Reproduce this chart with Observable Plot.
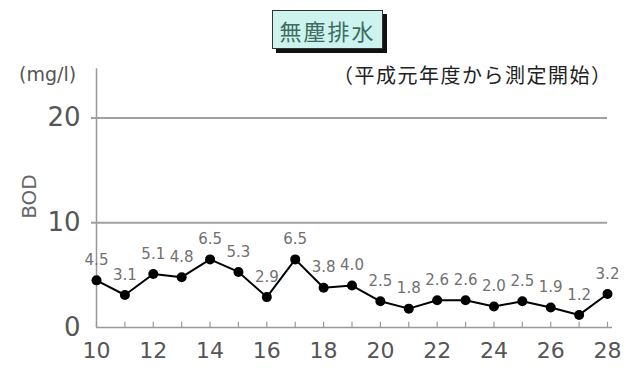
<!DOCTYPE html>
<html>
<head>
<meta charset="utf-8">
<script src="https://cdn.jsdelivr.net/npm/d3@7"></script>
<script src="https://cdn.jsdelivr.net/npm/@observablehq/plot@0.6"></script>
<style>
  body { margin: 0; background: #fff; }
  #wrap { position: relative; width: 637px; height: 368px; font-family: "DejaVu Sans", sans-serif; }
  #title { position: absolute; left: 272px; top: 10px; width: 109px; height: 37px; border: 1px solid #333;
    background: #cdf3ee; box-shadow: 4px 4px 0 #111; color: #3d6d62; font: 22px "Noto Sans CJK JP", sans-serif;
    display: flex; align-items: center; justify-content: center; letter-spacing: 2px; }
  #sub { position: absolute; left: 333px; top: 60px; font: 20px "Noto Sans CJK JP", sans-serif; color: #222; white-space: nowrap; letter-spacing: 1.5px; }
  #unit { position: absolute; left: 19px; top: 63px; font: 19px "DejaVu Sans", sans-serif; color: #555; }
  #chart { position: absolute; left: 0; top: 0; }
</style>
</head>
<body>
<div id="wrap">
  <div id="chart"></div>
  <div id="title">無塵排水</div>
  <div id="sub">（平成元年度から測定開始）</div>
  <div id="unit">(mg/l)</div>
</div>
<script>
const years = [10,11,12,13,14,15,16,17,18,19,20,21,22,23,24,25,26,27,28];
const bod = [4.5,3.1,5.1,4.8,6.5,5.3,2.9,6.5,3.8,4.0,2.5,1.8,2.6,2.6,2.0,2.5,1.9,1.2,3.2];
const xTicks = [10,12,14,16,18,20,22,24,26,28];
const yTicks = [0,10,20];
const yGrid = [10,20];
const yLabel = "BOD";

const data = years.map((y, i) => ({year: y, v: bod[i]}));

const chart = Plot.plot({
  width: 637,
  height: 368,
  marginLeft: 96,
  marginRight: 30,
  marginTop: 65,
  marginBottom: 41,
  style: {fontFamily: "'DejaVu Sans', sans-serif", background: "transparent"},
  x: {domain: [10, 28]},
  y: {domain: [0, 25]},
  marks: [
    Plot.ruleY(yGrid, {stroke: "#a0a0a0", strokeWidth: 2, insetLeft: -5}),
    Plot.ruleX([10], {y1: 0, y2: 24.7, stroke: "#999", strokeWidth: 1.5}),
    Plot.ruleY([0], {stroke: "#999", strokeWidth: 1.5, insetRight: -5}),
    Plot.ruleX(years, {y1: 0, y2: 0.5, stroke: "#999", strokeWidth: 1.2}),
    Plot.axisX({ticks: xTicks, tickSize: 0, tickPadding: 15, fontSize: 22, fill: "#555", label: null, tickFormat: d => String(d)}),
    Plot.axisY({ticks: yTicks, tickSize: 0, tickPadding: 16, fontSize: 26, fill: "#555", label: yLabel, labelAnchor: "center", labelArrow: "none", labelOffset: 75}),
    Plot.line(data, {x: "year", y: "v", stroke: "#000", strokeWidth: 2}),
    Plot.dot(data, {x: "year", y: "v", r: 5, fill: "#000", stroke: "none"}),
    Plot.text(data, {x: "year", y: "v", text: d => d.v.toFixed(1), dy: -20, fontSize: 15, fill: "#707070"})
  ]
});
document.getElementById("chart").appendChild(chart);
chart.querySelectorAll("g[aria-label='y-axis label'] text").forEach(t => { t.setAttribute("font-size", "20"); t.setAttribute("fill", "#666"); });
</script>
</body>
</html>
